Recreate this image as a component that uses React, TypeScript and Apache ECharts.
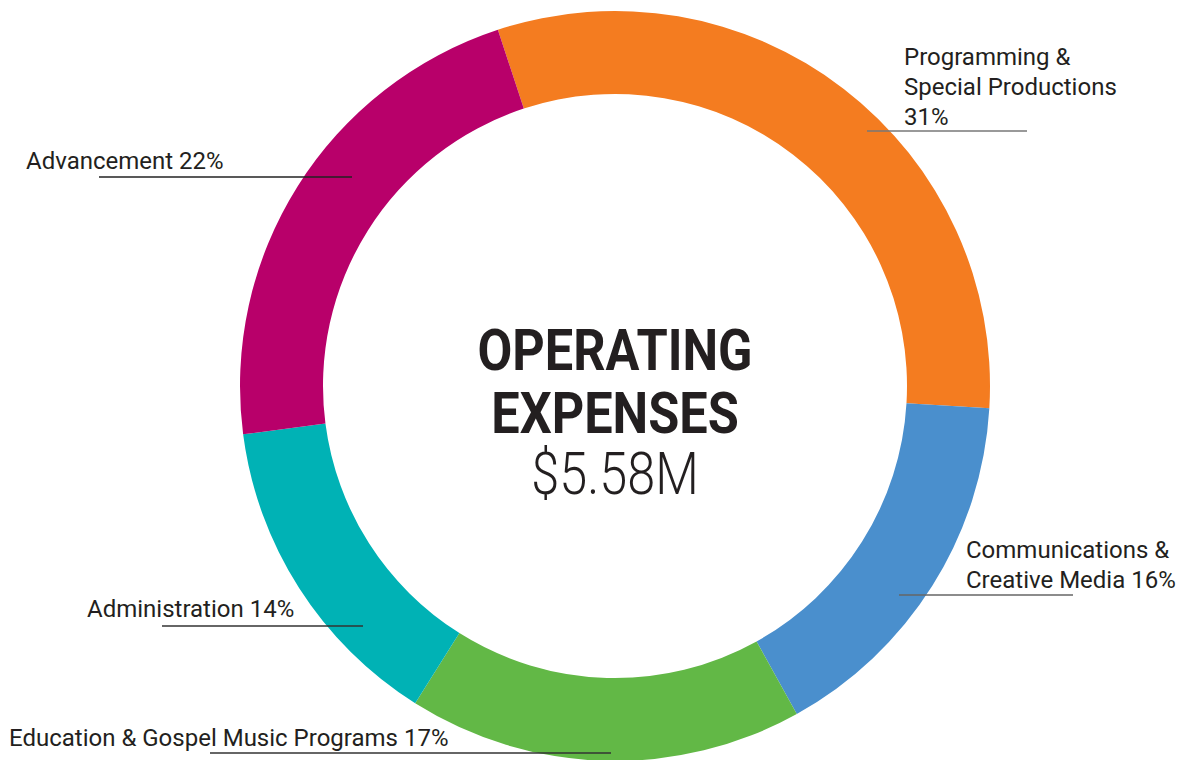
import React, { useEffect, useRef } from "react";
import * as echarts from "echarts";

const CATEGORIES = [
  "Programming & Special Productions",
  "Communications & Creative Media",
  "Education & Gospel Music Programs",
  "Administration",
  "Advancement",
];
const VALUES = [31, 16, 17, 14, 22];
const LABEL_TEXTS = [
  "Programming &\nSpecial Productions\n31%",
  "Communications &\nCreative Media 16%",
  "Education & Gospel Music Programs 17%",
  "Administration 14%",
  "Advancement 22%",
];
const COLORS = ["#F47C20", "#4A8FCD", "#62B846", "#00B2B5", "#B8006A"];
const LINE_COLORS = ["#777777", "#666666", "#333333", "#333333", "#222222"];
const CENTER_TITLE = ["OPERATING", "EXPENSES"];
const CENTER_VALUE = "$5.58M";

// layout: label top-left and leader line [xStart, xEnd, y]
const LABEL_POS = [
  { x: 904, y: 42, line: [867, 1027, 131] },
  { x: 966, y: 535, line: [899, 1073, 595] },
  { x: 9, y: 723, line: [210, 611, 753] },
  { x: 87, y: 594, line: [162, 363, 626] },
  { x: 26, y: 146, line: [99, 352, 177] },
];

export default function App() {
  const ref = useRef<HTMLDivElement>(null);
  useEffect(() => {
    if (!ref.current) return;
    const chart = echarts.init(ref.current, undefined, { renderer: "svg" });
    const ringData = CATEGORIES.map((name, i) => ({
      name,
      value: VALUES[i],
      itemStyle: { color: COLORS[i] },
    }));
    const labelData = CATEGORIES.map((name, i) => ({
      name,
      value: VALUES[i],
      itemStyle: { color: "rgba(0,0,0,0)" },
      label: { formatter: LABEL_TEXTS[i] },
      labelLine: { lineStyle: { color: LINE_COLORS[i], width: 1.3 } },
    }));
    const common = {
      type: "pie",
      center: [615, 386],
      radius: [292, 375],
      startAngle: 108.2,
      clockwise: true,
      avoidLabelOverlap: false,
      silent: true,
    };
    chart.setOption({
      animation: false,
      backgroundColor: "#ffffff",
      series: [
        {
          ...common,
          z: 2,
          itemStyle: { borderWidth: 0 },
          label: { show: false },
          labelLine: { show: false },
          data: ringData,
        },
        {
          ...common,
          z: 5,
          itemStyle: { borderWidth: 0 },
          label: {
            show: true,
            position: "outside",
            fontFamily: "Roboto",
            fontSize: 24,
            lineHeight: 30,
            color: "#231F20",
            align: "left",
          },
          labelLine: { show: true, smooth: false },
          labelLayout: (params: any) => {
            const p = LABEL_POS[params.dataIndex];
            const [x1, x2, y] = p.line;
            return {
              x: p.x,
              y: p.y,
              align: "left",
              verticalAlign: "top",
              labelLinePoints: [
                [x2, y],
                [(x1 + x2) / 2, y],
                [x1, y],
              ],
            };
          },
          data: labelData,
        },
      ],
      graphic: [
        {
          type: "text",
          x: 615,
          y: 350,
          scaleX: 0.87,
          style: {
            text: CENTER_TITLE[0],
            fontFamily: "Roboto",
            fontWeight: "bold",
            fontSize: 58,
            fill: "#231F20",
            textAlign: "center",
            textVerticalAlign: "middle",
          },
        },
        {
          type: "text",
          x: 615,
          y: 413,
          scaleX: 0.87,
          style: {
            text: CENTER_TITLE[1],
            fontFamily: "Roboto",
            fontWeight: "bold",
            fontSize: 58,
            fill: "#231F20",
            textAlign: "center",
            textVerticalAlign: "middle",
          },
        },
        {
          type: "text",
          x: 615,
          y: 474,
          scaleX: 0.84,
          style: {
            text: CENTER_VALUE,
            fontFamily: "Roboto",
            fontWeight: 300,
            fontSize: 60,
            fill: "#231F20",
            textAlign: "center",
            textVerticalAlign: "middle",
          },
        },
      ],
    });
    return () => chart.dispose();
  }, []);
  return (
    <div
      ref={ref}
      style={{ position: "absolute", left: 0, top: 0, width: 1179, height: 760 }}
    />
  );
}
